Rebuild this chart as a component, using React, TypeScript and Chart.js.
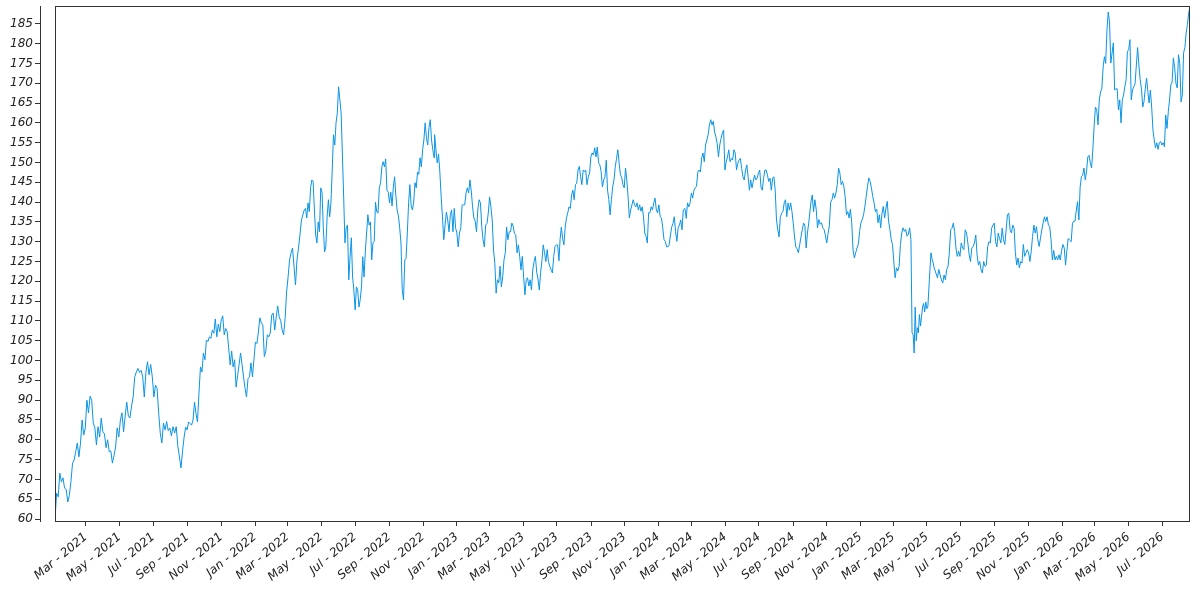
import { useEffect, useRef } from 'react'
import Chart from 'chart.js/auto'

// 일별 종가 — 구간별로 읽은 값 (구간 안에서는 날짜 간격이 고르다고 봄)
const segA = [60, 66.5, 65.6, 71.6, 69.4, 70.4, 67.8, 67.5, 64.3, 66, 69.4, 74.1, 74.9, 77, 79.2, 75.7, 79.2, 85, 81.2, 83,
  90, 86.8, 91, 90, 84.2, 83, 78.7, 83.3, 80.7, 85.5, 82, 81.5, 78, 80, 77, 77.2, 74.1, 76, 78.2, 83,
  80.7, 85, 86.8, 82, 86, 89.5, 86, 85.5, 88.5, 90.8, 95.9, 97.1, 98, 97, 97.5, 95.9, 90.8, 97, 99.7, 96.4,
  99, 95.9, 90.8, 93.8, 93, 86.8, 81.7, 79.2, 84.2, 82.5, 84.6, 82.3, 83, 81, 83.3, 81.7, 83.3, 78.5, 75.7, 72.9]
const segB = [77.4, 80.7, 83.2, 82.5, 84.5, 84.1, 83.7, 85, 89.5, 86.6, 84.5, 91.8, 98.4, 97.1, 101.9, 100.2, 105.2, 104.8, 106, 105.6,
  107.7, 106.9, 110.5, 106, 109.2, 107.3, 110.3, 111.3, 106.5, 108.1, 107.3, 103.2, 98.9, 102.4, 98.4, 100.2, 93.3, 96.2, 99, 101.9,
  99, 95.9, 93, 90.8, 95.4, 95.9, 99.4, 95.9, 100.2, 104.7, 104.3, 107.2, 110.8, 109.5, 109, 101, 102.4, 106.5, 106, 106.9,
  111.5, 112, 107.7, 111, 113.8, 111, 110.1, 107.7, 106.5, 110.6, 117.3, 121.1, 125.4, 127.2, 128.4, 123.8, 119.1, 125.4, 128.4, 131.7, 135.5]
const segC = [138, 138.4, 136, 139.8, 137.6, 143.6, 145.6, 145.2, 138, 131.7, 129.7, 135, 132.5, 143.6, 142.5, 133.5, 127.4, 128.8, 136.3, 140.6,
  136.3, 139.8, 148.1, 157, 154.4, 160, 162.5, 169.1, 165.8, 162.5, 151.9, 141.3, 129.7, 133.5, 134.2, 120.4, 126, 131, 121.1, 117.8,
  112.8, 118.6, 117.8, 113.5, 115.4, 118.6, 126.2, 121.1, 127.4, 132.2, 136.8, 134.2, 135, 125.4, 129.7, 130.1, 140, 137.5, 137.2, 143.6,
  144.9, 148.9, 150.2, 148.9, 150.9, 143, 142.5, 139.8, 142.5, 139, 143.8, 146.4, 141.6, 138, 136.5, 133.5, 129.7, 117.8, 115.3, 125.4,
  125.8, 132.2, 139.8, 144.4, 139, 138, 140, 144.9, 143.6, 147.6, 147, 151.2, 148.9, 153.2, 155.7, 160, 156.3, 154.4, 158.8, 160.8,
  155.7, 153.2, 151.2]
const segD = [157, 153.2, 149.9, 152.1, 147.6, 141.3, 136.3, 130.5, 134.2, 137.5, 135.5, 132.5, 136.8, 138, 132.5, 138.4, 133.5, 132.2, 128.7, 132.2,
  133.5, 139.3, 139.3, 139.3, 142.3, 143.6, 142.3, 145.6, 142.8, 138.8, 136, 135.2, 132.5, 138, 140.6, 139.8, 133.9, 130.5, 128.7, 134.2,
  134.6, 137.2, 141.3, 138.8, 135.5, 127.9, 124.6, 117, 120.4, 119.6, 123.8, 118.6, 121.1, 125.4, 127.2, 133.7, 130.5, 132.5, 132.5, 134.7,
  134, 132, 131.7, 127.2, 129.2, 126.3, 122.9, 126.3, 121.1, 116.6, 120.4, 120.9, 118.8, 120.4, 117.8, 122.9, 125, 126.3, 122.3, 120.6,
  117.8, 122.3, 125.2, 129.2, 127.2, 125, 128, 125, 123.8, 122.9, 122.1, 126.3, 128.8, 129.2, 129.2, 125.2]
const segE = [130.5, 133.7, 130.8, 129.2, 133.7, 136, 137.3, 138.8, 138.4, 141.8, 143, 140.6, 144.4, 144.8, 148.1, 149, 146.4, 144.4, 148.1, 147.7,
  148.1, 144.4, 146.4, 147.3, 151.4, 152.4, 151.9, 153.7, 151.4, 153.9, 149.9, 149.4, 147.7, 143.8, 145.6, 146.4, 150.6, 143, 140.6, 136.8,
  140.6, 143.8, 145.6, 148.9, 151, 153.2, 149.9, 147, 146.2, 144.4, 143.6, 148.6, 145.6, 141.4, 136, 138, 139.3, 140.6, 139.3, 138.8,
  139.8, 138, 139.3, 137.7, 138.8, 136.3, 132.2, 131.3, 129.7, 137.3, 137.3, 138.8, 138, 139.8, 141, 138, 137.3, 139.3, 136.3, 136,
  133.5, 130.5, 130.1, 128.7, 128.7, 129.2, 131.7, 133.7, 134.6, 136.3, 132.5, 130.1, 133.5, 134.2, 135.5, 133, 138]
const segF = [138.4, 135.9, 139.8, 138.8, 139.8, 142.3, 141, 143, 143.6, 144, 147.6, 148.1, 147.6, 151.2, 152.4, 150.2, 154.4, 155.7, 157, 159.5,
  160.8, 159.5, 160.4, 157.7, 156.5, 154.8, 151.4, 154.4, 156.1, 157.4, 158.2, 148.1, 150.2, 151.4, 153.2, 150.2, 151, 150.6, 153.2, 152.4,
  148.1, 149.8, 150.6, 151, 148.5, 146.4, 145.6, 148.1, 149.4, 146.4, 143, 145.6, 143.6, 145.2, 146.8, 145.6, 146, 147.3, 148.1, 143.8,
  143, 146, 148.1, 148.1, 146.8, 145.2, 146, 143, 146, 146.4, 143, 135.5, 133, 131.2, 136.3, 137.2, 137.6, 139.8, 140.6, 136.3,
  139.8, 138, 139.8, 137.6, 134.7, 131.2, 128.7, 128.2, 127.2, 129.2, 131.2, 133, 134.7, 134.2, 128.4, 132.2, 134.7]
const segG1 = [140, 141.8, 137.6, 140.6, 138.2, 133.5, 135.6, 134.4, 134.8, 133.5, 133.1, 131.6, 129.7, 132, 134, 140, 140.6, 142.3, 141, 142.3,
  144.4, 148.6, 147.3, 144.4, 145.2, 144, 141.4, 136.8, 137.6, 136, 138.2, 134.8, 127.9, 125.9, 127.2, 128.4, 129.3, 132.6, 134.8, 135.6,
  136.8, 138.9, 141.4, 144, 146.1, 145.2, 143.5, 141.4, 139.8, 137.6, 138.2, 134.8, 136.8, 133.5, 137.2, 138.9, 136, 138.5, 140.2, 135.2,
  133.1, 130.6, 129.3, 124.9, 120.9, 123.4, 122.6, 123.8, 129.3, 132.2, 133.5, 132.6, 133.1, 131.4, 131.8, 133.5, 130.5]
const segG2 = [107, 106.6, 101.9, 113.5, 105, 108.3, 107, 111.6, 108.7, 111.1, 113.5, 114.4, 112.3, 114.8, 113.1, 113.5, 118.3, 122.9, 127.2, 125.6,
  124.7, 123.4]
const segH = [120.9, 123, 121.6, 120.4, 119.6, 121.6, 120.4, 123, 123.8, 127.2, 133, 133.4, 134.7, 132.6, 128.4, 126.3, 127.6, 126.3, 129.7, 128.4,
  128, 133, 132.2, 129.7, 126.7, 125, 128.4, 128.8, 129.7, 131.7, 126.7, 124.1, 125, 122.9, 122.1, 125, 123.8, 124.1, 128.7, 130,
  129.7, 133.4, 134.2, 134.7, 130, 128.7, 132.2, 130.8, 129.7, 133.4, 130.5, 129.3, 133, 136.8, 137.2, 133, 132.2, 134.2, 133.4, 127.2,
  124.1, 125.9, 123.4, 125, 124.6, 129.3, 126.3, 127.2, 128, 127.2, 125, 127.6, 131.3, 134.2, 132.2, 133.8, 130.5, 128.8, 130.9, 133,
  134.7, 136.3, 135.1, 136.3, 134.2, 133.8, 130.5, 125.4, 127.8, 125.4, 126.3, 125.4, 126.7, 125.4, 127.8, 129.3, 128.4, 124.1, 127.8, 130.8,
  130.4]
const segI = [130, 134.7, 135.2, 135.2, 138, 140.1, 135.5, 143.8, 146.4, 146.8, 148.6, 145.6, 147.7, 151.4, 151.8, 149.8, 148.6, 153.7, 159.5, 164,
  163.2, 159.5, 165.8, 167.8, 168.6, 174.1, 176.7, 175, 183.5, 188, 185.5, 175.1, 177.6, 180.2, 168.3, 168.6, 168.6, 163.3, 165.8, 160,
  165.8, 167, 169.1, 170.9, 178, 178.5, 181, 165.8, 168.3, 169.1, 169.9, 174.6, 179, 174.6, 170.9, 168.6, 164, 165.4, 168.6, 171.3,
  168, 165, 168.3, 164, 158.2, 155.7, 153.7, 155, 153.3, 155, 155.3, 154.4, 155, 154, 162, 158.6, 162.8, 165.8, 169.6, 170.3,
  176.4, 173.9, 170, 168.8, 177.2, 175, 165.3, 167, 177.7, 179, 182.7, 184.8, 187.8, 189.5]

// [시작일, 종료일, 값]
const segments: [string, string, number[]][] = [
  ['2021-01-04', '2021-08-20', segA],
  ['2021-08-23', '2022-03-26', segB],
  ['2022-03-31', '2022-11-21', segC],
  ['2022-11-22', '2023-07-05', segD],
  ['2023-07-07', '2024-02-15', segE],
  ['2024-02-18', '2024-09-29', segF],
  ['2024-10-03', '2025-04-02', segG1],
  ['2025-04-04', '2025-05-14', segG2],
  ['2025-05-20', '2026-01-14', segH],
  ['2026-01-17', '2026-08-20', segI],
]

const MONTHS = ['Jan', 'Feb', 'Mar', 'Apr', 'May', 'Jun', 'Jul', 'Aug', 'Sep', 'Oct', 'Nov', 'Dec']
const xTickLabels = [
  'Mar - 2021', 'May - 2021', 'Jul - 2021', 'Sep - 2021', 'Nov - 2021',
  'Jan - 2022', 'Mar - 2022', 'May - 2022', 'Jul - 2022', 'Sep - 2022', 'Nov - 2022',
  'Jan - 2023', 'Mar - 2023', 'May - 2023', 'Jul - 2023', 'Sep - 2023', 'Nov - 2023',
  'Jan - 2024', 'Mar - 2024', 'May - 2024', 'Jul - 2024', 'Sep - 2024', 'Nov - 2024',
  'Jan - 2025', 'Mar - 2025', 'May - 2025', 'Jul - 2025', 'Sep - 2025', 'Nov - 2025',
  'Jan - 2026', 'Mar - 2026', 'May - 2026', 'Jul - 2026',
]
const yTicks = [60, 65, 70, 75, 80, 85, 90, 95, 100, 105, 110, 115, 120, 125, 130, 135, 140, 145, 150, 155, 160, 165, 170, 175, 180, 185]

const BASE = Date.UTC(2021, 0, 1)
const dayOf = (s: string) => {
  const [y, m, d] = s.split('-').map(Number)
  return (Date.UTC(y, m - 1, d) - BASE) / 86400000
}
const labelDay = (l: string) => {
  const [mon, yr] = l.split(' - ')
  return (Date.UTC(Number(yr), MONTHS.indexOf(mon), 1) - BASE) / 86400000
}

const FONT = { family: "'DejaVu Sans', sans-serif", size: 12, style: 'italic' as const }
const INK = '#222'

export default function App() {
  const canvasRef = useRef<HTMLCanvasElement>(null)

  useEffect(() => {
    document.body.style.margin = '0'
    if (!canvasRef.current) return

    const points: { x: number; y: number }[] = []
    for (const [from, to, vals] of segments) {
      const d0 = dayOf(from), d1 = dayOf(to)
      vals.forEach((v, i) => points.push({ x: d0 + ((d1 - d0) * i) / (vals.length - 1), y: v }))
    }
    const tickDays = xTickLabels.map(labelDay)
    const labelByDay: Record<number, string> = {}
    xTickLabels.forEach((l, i) => { labelByDay[tickDays[i]] = l })

    // 플롯 영역 테두리
    const frame = {
      id: 'frame',
      afterDraw(c: any) {
        const { ctx, chartArea: a } = c
        ctx.save()
        ctx.strokeStyle = '#333'; ctx.lineWidth = 1
        ctx.strokeRect(Math.round(a.left) + 0.5, Math.round(a.top) + 0.5, Math.round(a.width) - 1, Math.round(a.height))
        ctx.restore()
      },
    }

    const chart = new Chart(canvasRef.current, {
      type: 'line',
      data: {
        datasets: [{
          data: points as any,
          borderColor: '#0a94e4', borderWidth: 1, pointRadius: 0, tension: 0, fill: false,
        }],
      },
      options: {
        animation: false, responsive: true, maintainAspectRatio: false,
        parsing: false,
        layout: { padding: { top: 6, right: 10, left: 0, bottom: 0 } },
        plugins: { legend: { display: false }, tooltip: { enabled: false } },
        scales: {
          x: {
            type: 'linear', min: points[0].x, max: points[points.length - 1].x,
            afterBuildTicks: (s: any) => { s.ticks = tickDays.map(v => ({ value: v })) },
            afterFit: (s: any) => { s.height = 79; s.paddingLeft = 0; s.paddingRight = 0 },
            grid: { drawOnChartArea: false, drawTicks: true, tickLength: 5, color: '#333' },
            border: { display: false },
            ticks: {
              autoSkip: false, minRotation: 40, maxRotation: 40, padding: 4,
              color: INK, font: FONT,
              callback: (v: any) => labelByDay[v] ?? '',
            },
          },
          y: {
            type: 'linear', position: 'left', min: 59.5, max: 189.5, weight: 1,
            afterBuildTicks: (s: any) => { s.ticks = yTicks.map(v => ({ value: v })) },
            afterFit: (s: any) => { s.width = 40; s.paddingTop = 0; s.paddingBottom = 0 },
            grid: { drawOnChartArea: false, drawTicks: true, tickLength: 5, color: '#333' },
            border: { display: true, color: '#333', width: 1 },
            ticks: { color: INK, font: FONT, padding: 2 },
          },
          gap: {
            type: 'linear', axis: 'y', position: 'left', weight: 0,
            afterFit: (s: any) => { s.width = 15; s.paddingTop = 0; s.paddingBottom = 0 },
            grid: { display: false }, border: { display: false }, ticks: { display: false },
          },
        },
      },
      plugins: [frame],
    })

    return () => chart.destroy()
  }, [])

  return (
    <div style={{ width: 1200, height: 600, position: 'relative' }}>
      <canvas ref={canvasRef} />
    </div>
  )
}
